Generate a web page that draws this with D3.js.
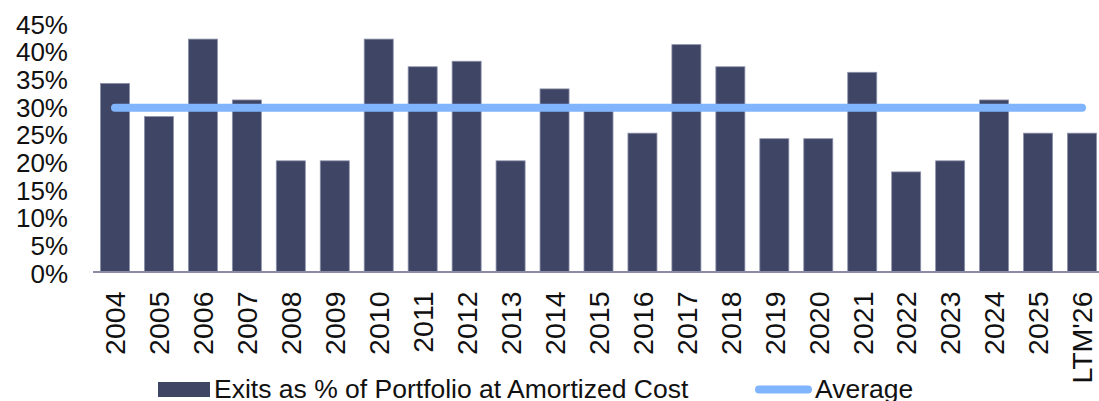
<!DOCTYPE html>
<html>
<head>
<meta charset="utf-8">
<script src="https://cdn.jsdelivr.net/npm/d3@7"></script>
<style>
  html, body { margin: 0; padding: 0; background: #fff; }
  svg text { font-family: "Liberation Sans", Arial, sans-serif; fill: #111; }
</style>
</head>
<body>
<svg id="chart" width="1099" height="401"></svg>
<script>
// ---- data ----
const years = ["2004", "2005", "2006", "2007", "2008", "2009", "2010", "2011", "2012", "2013", "2014",
  "2015", "2016", "2017", "2018", "2019", "2020", "2021", "2022", "2023", "2024", "2025", "LTM'26"];
const exitsPct = [34, 28, 42, 31, 20, 20, 42, 37, 38, 20, 33, 29, 25, 41, 37, 24, 24, 36, 18, 20, 31, 25, 25];
const averagePct = years.map(() => 29.6);
const yTicks = [0, 5, 10, 15, 20, 25, 30, 35, 40, 45];
const legendLabels = ["Exits as % of Portfolio at Amortized Cost", "Average"];

// ---- layout ----
const svg = d3.select("#chart");
const plotLeft = 93, plotRight = 1104, plotTop = 22.5, plotBottom = 271.5;

const x = d3.scaleBand()
  .domain(years)
  .range([plotLeft, plotRight])
  .paddingInner(0.34)
  .paddingOuter(0.17);

const y = d3.scaleLinear()
  .domain([0, 45])
  .range([plotBottom, plotTop]);

// bars
svg.append("g")
  .selectAll("rect")
  .data(years)
  .join("rect")
  .attr("x", d => x(d))
  .attr("y", (d, i) => y(exitsPct[i]))
  .attr("width", x.bandwidth())
  .attr("height", (d, i) => y(0) - y(exitsPct[i]))
  .attr("fill", "#3f4565")
  .attr("stroke", "#8d91aa")
  .attr("stroke-width", 0.8);

// x axis line
svg.append("line")
  .attr("x1", plotLeft).attr("x2", 1099)
  .attr("y1", y(0) + 0.5).attr("y2", y(0) + 0.5)
  .attr("stroke", "#8b8ba6")
  .attr("stroke-width", 2);

// average line
const avgLine = d3.line()
  .x(d => x(d) + x.bandwidth() / 2)
  .y((d, i) => y(averagePct[i]));

svg.append("path")
  .datum(years)
  .attr("d", avgLine)
  .attr("fill", "none")
  .attr("stroke", "#80b4fc")
  .attr("stroke-width", 8)
  .attr("stroke-linecap", "round");

// y axis labels
const yAxis = d3.axisLeft(y)
  .tickValues(yTicks)
  .tickFormat(d => d + "%")
  .tickSize(0)
  .tickPadding(0);

svg.append("g")
  .attr("transform", "translate(68,2.5)")
  .call(yAxis)
  .call(g => g.select(".domain").remove())
  .selectAll("text")
  .style("font-size", "26px")
  .style("fill", "#111");

// x axis labels (rotated)
const xAxis = d3.axisBottom(x).tickSize(0).tickPadding(0);
svg.append("g")
  .attr("transform", `translate(0,${plotBottom + 20})`)
  .call(xAxis)
  .call(g => g.select(".domain").remove())
  .selectAll("text")
  .attr("transform", "rotate(-90)")
  .attr("text-anchor", "end")
  .attr("x", 0)
  .attr("y", 0)
  .attr("dy", "0.36em")
  .style("font-size", "28.5px")
  .style("fill", "#111");

// legend
const legend = svg.append("g");
legend.append("rect")
  .attr("x", 158).attr("y", 382)
  .attr("width", 52).attr("height", 15)
  .attr("fill", "#3f4565");
legend.append("text")
  .attr("x", 214).attr("y", 398)
  .style("font-size", "26.5px")
  .text(legendLabels[0]);
legend.append("line")
  .attr("x1", 759).attr("x2", 808)
  .attr("y1", 389.5).attr("y2", 389.5)
  .attr("stroke", "#80b4fc")
  .attr("stroke-width", 8)
  .attr("stroke-linecap", "round");
legend.append("text")
  .attr("x", 815).attr("y", 398)
  .style("font-size", "26.5px")
  .text(legendLabels[1]);
</script>
</body>
</html>
